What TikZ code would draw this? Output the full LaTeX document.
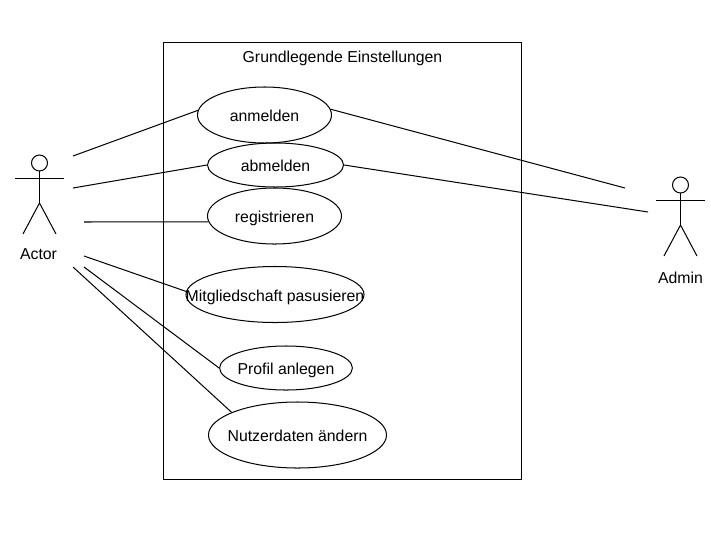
\documentclass[tikz,border=0pt]{standalone}
\usepackage{fontspec}
\setmainfont{Liberation Sans}
\usetikzlibrary{shapes.geometric}
\tikzset{
  usecase/.style={draw, ellipse, inner sep=0pt, font=\fontsize{11.25}{12}\selectfont},
  caption/.style={font=\fontsize{11.25}{12}\selectfont, inner sep=0pt},
  stickman/.pic={
    \draw (0,0) circle (8);
    \draw (0,8) -- (0,40);
    \draw (-24.5,15.5) -- (24.5,15.5);
    \draw (-16.5,71) -- (0,40) -- (16.5,71);
  }
}
\newcommand{\uclabel}[1]{\raisebox{-4.8pt}[0pt][0pt]{\makebox[0pt]{#1}}}
\begin{document}
\begin{tikzpicture}[x=0.025cm, y=-0.025cm, line width=0.72pt]
\useasboundingbox (0,0) rectangle (711,548);
\draw (163.5,42.5) rectangle (521.5,479.5);
\node[caption] (title) at (342.5,58.5) {Grundlegende Einstellungen};
\node[usecase, minimum width=3.35cm, minimum height=1.4cm] (anmelden) at (264.5,115) {\uclabel{anmelden}};
\node[usecase, minimum width=3.4cm, minimum height=1.1cm] (abmelden) at (275.5,165) {\uclabel{abmelden}};
\node[usecase, minimum width=3.35cm, minimum height=1.4cm] (registrieren) at (274.5,216) {\uclabel{registrieren}};
\node[usecase, minimum width=4.45cm, minimum height=1.4cm] (pausieren) at (275,294.5) {\uclabel{Mitgliedschaft pasusieren}};
\node[usecase, minimum width=3.32cm, minimum height=1.1cm] (profil) at (286,368) {\uclabel{Profil anlegen}};
\node[usecase, minimum width=4.45cm, minimum height=1.65cm] (nutzerdaten) at (297.5,435) {\uclabel{Nutzerdaten ändern}};
% actors
\pic at (39.5,163) {stickman};
\node[caption] (actor) at (38.5,254) {Actor};
\pic at (680.5,185) {stickman};
\node[caption] (admin) at (680.5,277.5) {Admin};
% free ends
\coordinate (a1) at (73,156);
\coordinate (a2) at (73,188);
\coordinate (a3) at (84,222);
\coordinate (a4) at (84,256);
\coordinate (a5) at (84,267);
\coordinate (a6) at (73,267);
\coordinate (b1) at (625,188);
\coordinate (b2) at (648,212);
\draw (a1) -- (anmelden.176);
\draw (a2) -- (abmelden.180);
\draw (a3) -- (registrieren.185);
\draw (a4) -- (pausieren.178);
\draw (a5) -- (profil.180);
\draw (a6) -- (nutzerdaten.161);
\draw (anmelden.5) -- (b1);
\draw (abmelden.0) -- (b2);
\end{tikzpicture}
\end{document}
